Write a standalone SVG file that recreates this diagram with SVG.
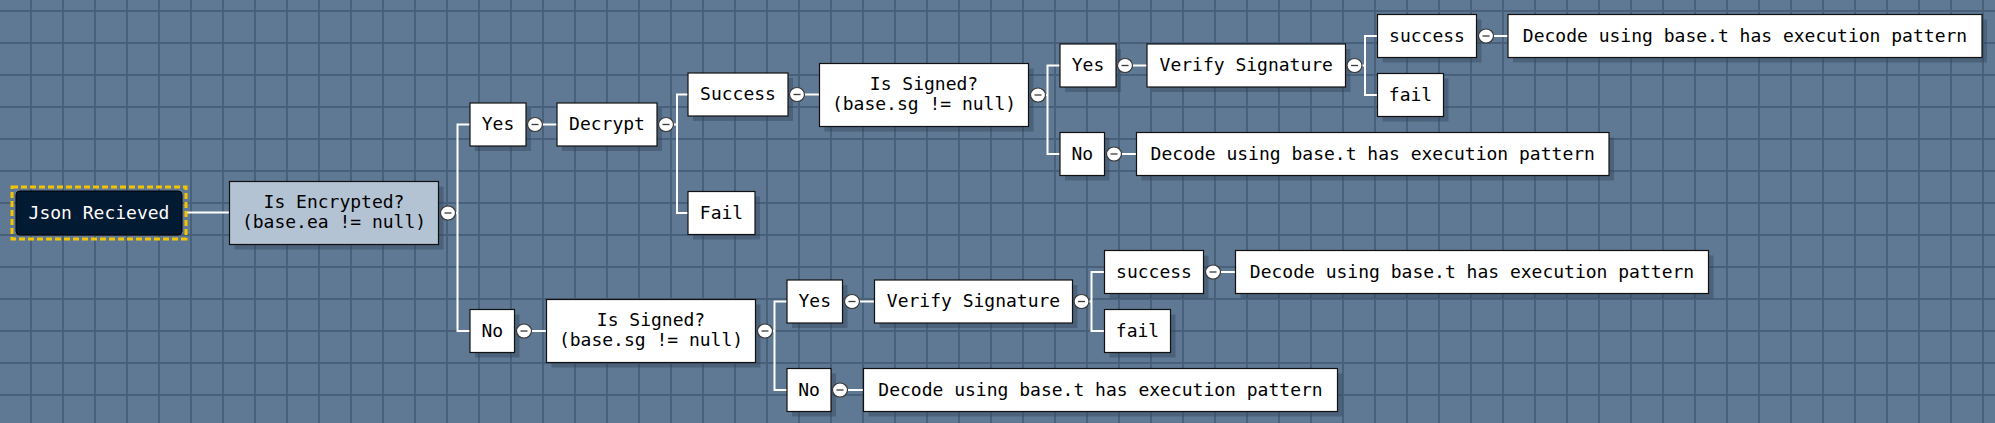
<svg xmlns="http://www.w3.org/2000/svg" width="1995" height="423" viewBox="0 0 1995 423">
<style>
.bx{fill:#fff;stroke:#111;stroke-width:1.2}
.q{fill:#b4c3d3;stroke:#111;stroke-width:1.2}
.sh{fill:#34465c;opacity:0.45}
.t{font-family:"DejaVu Sans Mono","Liberation Mono",monospace;font-size:18px;fill:#000;text-anchor:middle}
.tw{fill:#fff}
.c{fill:#fff;stroke:#3a3a3a;stroke-width:1.2}
.m{stroke:#3a3a3a;stroke-width:1.3}
.ln{fill:none;stroke:#fff;stroke-width:2}
</style>
<defs>
<pattern id="grid" x="30" y="10" width="32" height="32" patternUnits="userSpaceOnUse">
<rect x="0" y="0" width="2" height="32" fill="#48607a"/>
<rect x="0" y="0" width="32" height="2" fill="#48607a"/>
</pattern>
<g id="col"><ellipse class="c" cx="0" cy="0" rx="7.5" ry="7"/><path class="m" d="M-3.5 0H3.5"/></g>
</defs>
<rect width="1995" height="423" fill="#5f7994"/>
<rect width="1995" height="423" fill="url(#grid)"/>

<g id="connectors">
<path class="ln" d="M187 212.5H229.5"/>
<path class="ln" d="M470 124.5H457.5V331H470M455.5 213H457.5"/>
<path class="ln" d="M542.5 124.5H557"/>
<path class="ln" d="M688 94.5H677V213H688M673.5 124.5H677"/>
<path class="ln" d="M804.5 94.5H819.5"/>
<path class="ln" d="M1060 65.5H1047.5V154H1060M1045.5 95H1047.5"/>
<path class="ln" d="M1132.5 65.5H1147"/>
<path class="ln" d="M1377.5 36H1365V95H1377.5M1362 65.5H1365"/>
<path class="ln" d="M1493.5 36H1508"/>
<path class="ln" d="M1121.5 154H1136.5"/>
<path class="ln" d="M531.5 331H546.5"/>
<path class="ln" d="M787 301.5H774.5V390H787M772.5 331H774.5"/>
<path class="ln" d="M859.5 301.5H874.5"/>
<path class="ln" d="M1104.5 272H1091.5V331H1104.5M1089 301.5H1091.5"/>
<path class="ln" d="M1220.5 272H1235.5"/>
<path class="ln" d="M847.5 390H863.5"/>
</g>

<g id="json">
<rect x="12" y="187" width="174" height="52" fill="none" stroke="#f5c400" stroke-width="3" stroke-dasharray="6 3"/>
<rect x="16" y="191" width="166" height="44" rx="4" fill="#031a33" stroke="#000" stroke-width="1"/>
<text class="t tw" x="99" y="219">Json Recieved</text>
</g>

<g id="encrypted">
<rect class="sh" x="234.5" y="186.5" width="209" height="63"/>
<rect class="q" x="229.5" y="181.5" width="209" height="63"/>
<text class="t" x="334" y="208">Is Encrypted?</text>
<text class="t" x="334" y="228">(base.ea != null)</text>
<use href="#col" x="448" y="213"/>
</g>

<g id="yes1">
<rect class="sh" x="475" y="108" width="56" height="43"/>
<rect class="bx" x="470" y="103" width="56" height="43"/>
<text class="t" x="498" y="130">Yes</text>
<use href="#col" x="535" y="124.5"/>
</g>

<g id="decrypt">
<rect class="sh" x="562" y="108" width="100" height="43"/>
<rect class="bx" x="557" y="103" width="100" height="43"/>
<text class="t" x="607" y="130">Decrypt</text>
<use href="#col" x="666" y="124.5"/>
</g>

<g id="success">
<rect class="sh" x="693" y="78" width="100" height="43"/>
<rect class="bx" x="688" y="73" width="100" height="43"/>
<text class="t" x="738" y="100">Success</text>
<use href="#col" x="797" y="94.5"/>
</g>

<g id="fail">
<rect class="sh" x="693" y="196.5" width="67" height="43"/>
<rect class="bx" x="688" y="191.5" width="67" height="43"/>
<text class="t" x="721.5" y="218.5">Fail</text>
</g>

<g id="signed1">
<rect class="sh" x="824.5" y="68.5" width="209" height="63"/>
<rect class="bx" x="819.5" y="63.5" width="209" height="63"/>
<text class="t" x="924" y="90">Is Signed?</text>
<text class="t" x="924" y="110">(base.sg != null)</text>
<use href="#col" x="1038" y="95"/>
</g>

<g id="yes2">
<rect class="sh" x="1065" y="49" width="56" height="43"/>
<rect class="bx" x="1060" y="44" width="56" height="43"/>
<text class="t" x="1088" y="71">Yes</text>
<use href="#col" x="1125" y="65.5"/>
</g>

<g id="verify1">
<rect class="sh" x="1152" y="49" width="198.5" height="43"/>
<rect class="bx" x="1147" y="44" width="198.5" height="43"/>
<text class="t" x="1246.25" y="71">Verify Signature</text>
<use href="#col" x="1354.5" y="65.5"/>
</g>

<g id="success1">
<rect class="sh" x="1382.5" y="19.5" width="99" height="43"/>
<rect class="bx" x="1377.5" y="14.5" width="99" height="43"/>
<text class="t" x="1427" y="41.5">success</text>
<use href="#col" x="1486" y="36"/>
</g>

<g id="decode1">
<rect class="sh" x="1513" y="19.5" width="474" height="43"/>
<rect class="bx" x="1508" y="14.5" width="474" height="43"/>
<text class="t" x="1745" y="41.5">Decode using base.t has execution pattern</text>
</g>

<g id="fail1">
<rect class="sh" x="1382.5" y="78.5" width="66" height="43"/>
<rect class="bx" x="1377.5" y="73.5" width="66" height="43"/>
<text class="t" x="1410.5" y="100.5">fail</text>
</g>

<g id="no2">
<rect class="sh" x="1065" y="137.5" width="44.5" height="43"/>
<rect class="bx" x="1060" y="132.5" width="44.5" height="43"/>
<text class="t" x="1082.25" y="159.5">No</text>
<use href="#col" x="1114" y="154"/>
</g>

<g id="decode2">
<rect class="sh" x="1141.5" y="137.5" width="472.5" height="43"/>
<rect class="bx" x="1136.5" y="132.5" width="472.5" height="43"/>
<text class="t" x="1372.75" y="159.5">Decode using base.t has execution pattern</text>
</g>

<g id="no1">
<rect class="sh" x="475" y="314.5" width="44.5" height="43"/>
<rect class="bx" x="470" y="309.5" width="44.5" height="43"/>
<text class="t" x="492.25" y="336.5">No</text>
<use href="#col" x="524" y="331"/>
</g>

<g id="signed2">
<rect class="sh" x="551.5" y="304.5" width="209" height="63"/>
<rect class="bx" x="546.5" y="299.5" width="209" height="63"/>
<text class="t" x="651" y="326">Is Signed?</text>
<text class="t" x="651" y="346">(base.sg != null)</text>
<use href="#col" x="765" y="331"/>
</g>

<g id="yes3">
<rect class="sh" x="792" y="285" width="55.5" height="43"/>
<rect class="bx" x="787" y="280" width="55.5" height="43"/>
<text class="t" x="814.75" y="307">Yes</text>
<use href="#col" x="852" y="301.5"/>
</g>

<g id="verify2">
<rect class="sh" x="879.5" y="285" width="198" height="43"/>
<rect class="bx" x="874.5" y="280" width="198" height="43"/>
<text class="t" x="973.5" y="307">Verify Signature</text>
<use href="#col" x="1081.5" y="301.5"/>
</g>

<g id="success2">
<rect class="sh" x="1109.5" y="255.5" width="99" height="43"/>
<rect class="bx" x="1104.5" y="250.5" width="99" height="43"/>
<text class="t" x="1154" y="277.5">success</text>
<use href="#col" x="1213" y="272"/>
</g>

<g id="decode3">
<rect class="sh" x="1240.5" y="255.5" width="473" height="43"/>
<rect class="bx" x="1235.5" y="250.5" width="473" height="43"/>
<text class="t" x="1472" y="277.5">Decode using base.t has execution pattern</text>
</g>

<g id="fail2">
<rect class="sh" x="1109.5" y="314.5" width="66" height="43"/>
<rect class="bx" x="1104.5" y="309.5" width="66" height="43"/>
<text class="t" x="1137.5" y="336.5">fail</text>
</g>

<g id="no3">
<rect class="sh" x="792" y="373.5" width="44" height="43"/>
<rect class="bx" x="787" y="368.5" width="44" height="43"/>
<text class="t" x="809" y="395.5">No</text>
<use href="#col" x="840" y="390"/>
</g>

<g id="decode4">
<rect class="sh" x="868.5" y="373.5" width="474" height="43"/>
<rect class="bx" x="863.5" y="368.5" width="474" height="43"/>
<text class="t" x="1100.5" y="395.5">Decode using base.t has execution pattern</text>
</g>
</svg>
